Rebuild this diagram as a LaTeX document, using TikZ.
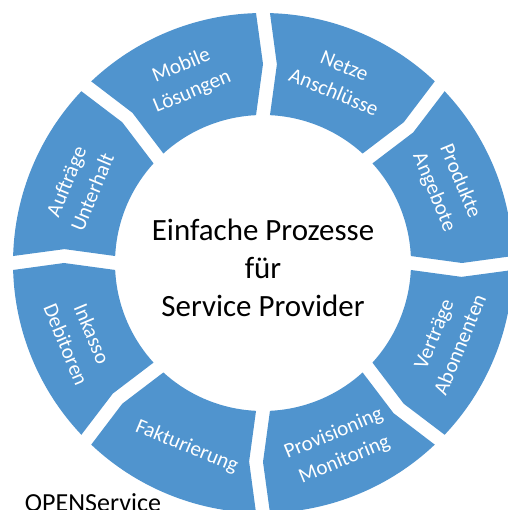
\documentclass[tikz,border=0pt]{standalone}
\usepackage{fontspec}
\setmainfont{Carlito}
\usepackage{tikz}
\definecolor{ringblue}{RGB}{80,148,206}

\begin{document}
\begin{tikzpicture}[x=0.025cm, y=0.025cm,
    block/.style={fill=ringblue},
    blocklabel/.style={text=white, align=center, font=\fontsize{15}{20}\selectfont},
    hubtext/.style={align=center, font=\fontsize{22}{27}\selectfont}]
    \useasboundingbox (-263, -247) rectangle (244, 263);
    \foreach \c/\r/\t [count=\n] in {112.5/22.5/{Mobile\\Lösungen}, 67.5/-22.5/{Netze\\Anschlüsse},
        22.5/-67.5/{Produkte\\Angebote}, -22.5/67.5/{Verträge\\Abonnenten},
        -67.5/22.5/{Provisioning\\Monitoring}, -112.5/-22.5/{Fakturierung},
        -157.5/-67.5/{Inkasso\\Debitoren}, 157.5/67.5/{Aufträge\\Unterhalt}} {
        \fill[block] (\c+22.5-1.6:250) arc[start angle=\c+22.5-1.6, end angle=\c-22.5+1.6, radius=250]
            -- (\c-22.5:199) -- (\c-22.5+2.7:148)
            arc[start angle=\c-22.5+2.7, end angle=\c+22.5-2.7, radius=148]
            -- (\c+22.5-4:199) -- cycle;
        \node[blocklabel, rotate=\r] (seg\n) at (\c:199) {\t};
    }
    \node[hubtext] (hub) at (0, -5) {Einfache Prozesse\\für\\Service Provider};
    \node[anchor=base west, font=\fontsize{18.5}{22}\selectfont] (brand) at (-243, -248) {OPENService};
\end{tikzpicture}
\end{document}
